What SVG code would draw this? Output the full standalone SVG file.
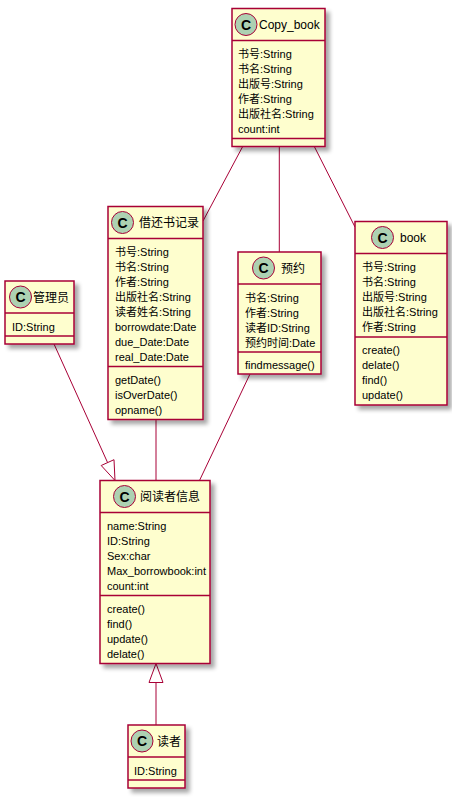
<svg xmlns="http://www.w3.org/2000/svg" width="452" height="797" viewBox="0 0 452 797">
<defs>
<filter id="sh" x="-10%" y="-10%" width="130%" height="130%">
<feGaussianBlur in="SourceAlpha" stdDeviation="2"/>
<feOffset dx="4" dy="4" result="b"/>
<feComponentTransfer><feFuncA type="linear" slope="0.35"/></feComponentTransfer>
<feMerge><feMergeNode/><feMergeNode in="SourceGraphic"/></feMerge>
</filter>
</defs>
<style>
.box{fill:#FEFECE;stroke:#A80036;stroke-width:1.5}
.div{stroke:#A80036;stroke-width:1.5}
.ci{fill:#ADD1B2;stroke:#A80036;stroke-width:1}
.cl{font-family:"Liberation Sans","Noto Sans CJK SC",sans-serif;font-size:14px;font-weight:bold;fill:#000;text-anchor:middle}
.t{font-family:"Liberation Sans","Noto Sans CJK SC",sans-serif;font-size:12px;fill:#000}
.m{font-family:"Liberation Sans","Noto Sans CJK SC",sans-serif;font-size:11px;fill:#000}
.ln{stroke:#A80036;stroke-width:1;fill:none}
.tri{stroke:#A80036;stroke-width:1;fill:#FFFFFF}
</style>
<g id="connectors">
<line class="ln" x1="242.7" y1="146.5" x2="203" y2="221"/>
<line class="ln" x1="279.3" y1="146.5" x2="279.3" y2="252"/>
<line class="ln" x1="314.3" y1="146.5" x2="355" y2="227"/>
<line class="ln" x1="54" y1="344" x2="107.6" y2="462.6"/>
<polygon class="tri" points="115,480.5 101.2,465.5 114,459.7"/>
<line class="ln" x1="156" y1="419.5" x2="156" y2="480.5"/>
<line class="ln" x1="250" y1="374" x2="199.5" y2="480.5"/>
<line class="ln" x1="156" y1="725" x2="156" y2="682.5"/>
<polygon class="tri" points="156,663.5 149,682.5 163,682.5"/>
</g>
<g id="Copy_book">
<rect class="box" x="232" y="8.5" width="93" height="138" filter="url(#sh)"/>
<line class="div" x1="232" y1="40.5" x2="325" y2="40.5"/>
<line class="div" x1="232" y1="138.5" x2="325" y2="138.5"/>
<circle class="ci" cx="246" cy="24.5" r="11"/>
<text class="cl" x="246" y="29.5">C</text>
<text class="t" x="259" y="29">Copy_book</text>
<text class="m" x="238" y="58">书号:String</text>
<text class="m" x="238" y="73">书名:String</text>
<text class="m" x="238" y="88">出版号:String</text>
<text class="m" x="238" y="103">作者:String</text>
<text class="m" x="238" y="118">出版社名:String</text>
<text class="m" x="238" y="133">count:int</text>
</g>
<g id="借还书记录">
<rect class="box" x="108" y="206.5" width="95" height="213" filter="url(#sh)"/>
<line class="div" x1="108" y1="238.5" x2="203" y2="238.5"/>
<line class="div" x1="108" y1="366.5" x2="203" y2="366.5"/>
<circle class="ci" cx="122.5" cy="222.5" r="11"/>
<text class="cl" x="122.5" y="227.5">C</text>
<text class="t" x="139" y="227">借还书记录</text>
<text class="m" x="115" y="256">书号:String</text>
<text class="m" x="115" y="271">书名:String</text>
<text class="m" x="115" y="286">作者:String</text>
<text class="m" x="115" y="301">出版社名:String</text>
<text class="m" x="115" y="316">读者姓名:String</text>
<text class="m" x="115" y="331">borrowdate:Date</text>
<text class="m" x="115" y="346">due_Date:Date</text>
<text class="m" x="115" y="361">real_Date:Date</text>
<text class="m" x="115" y="384">getDate()</text>
<text class="m" x="115" y="399">isOverDate()</text>
<text class="m" x="115" y="414">opname()</text>
</g>
<g id="预约">
<rect class="box" x="238" y="252" width="83" height="122" filter="url(#sh)"/>
<line class="div" x1="238" y1="284" x2="321" y2="284"/>
<line class="div" x1="238" y1="352" x2="321" y2="352"/>
<circle class="ci" cx="263.5" cy="268" r="11"/>
<text class="cl" x="263.5" y="273">C</text>
<text class="t" x="281" y="272.5">预约</text>
<text class="m" x="245" y="301.5">书名:String</text>
<text class="m" x="245" y="316.5">作者:String</text>
<text class="m" x="245" y="331.5">读者ID:String</text>
<text class="m" x="245" y="346.5">预约时间:Date</text>
<text class="m" x="245" y="369">findmessage()</text>
</g>
<g id="book">
<rect class="box" x="355" y="221.5" width="92" height="183.5" filter="url(#sh)"/>
<line class="div" x1="355" y1="253.5" x2="447" y2="253.5"/>
<line class="div" x1="355" y1="337" x2="447" y2="337"/>
<circle class="ci" cx="382.5" cy="237.5" r="11"/>
<text class="cl" x="382.5" y="242.5">C</text>
<text class="t" x="400" y="242">book</text>
<text class="m" x="362" y="271">书号:String</text>
<text class="m" x="362" y="286">书名:String</text>
<text class="m" x="362" y="301">出版号:String</text>
<text class="m" x="362" y="316">出版社名:String</text>
<text class="m" x="362" y="331">作者:String</text>
<text class="m" x="362" y="354">create()</text>
<text class="m" x="362" y="369">delate()</text>
<text class="m" x="362" y="384">find()</text>
<text class="m" x="362" y="399">update()</text>
</g>
<g id="管理员">
<rect class="box" x="5" y="281" width="69" height="63" filter="url(#sh)"/>
<line class="div" x1="5" y1="313" x2="74" y2="313"/>
<line class="div" x1="5" y1="336" x2="74" y2="336"/>
<circle class="ci" cx="20.5" cy="297" r="11"/>
<text class="cl" x="20.5" y="302">C</text>
<text class="t" x="33" y="301.5">管理员</text>
<text class="m" x="12" y="330.5">ID:String</text>
</g>
<g id="阅读者信息">
<rect class="box" x="100" y="480.5" width="110" height="183" filter="url(#sh)"/>
<line class="div" x1="100" y1="512.5" x2="210" y2="512.5"/>
<line class="div" x1="100" y1="595.5" x2="210" y2="595.5"/>
<circle class="ci" cx="124.5" cy="496.5" r="11"/>
<text class="cl" x="124.5" y="501.5">C</text>
<text class="t" x="140" y="501">阅读者信息</text>
<text class="m" x="107" y="530">name:String</text>
<text class="m" x="107" y="545">ID:String</text>
<text class="m" x="107" y="560">Sex:char</text>
<text class="m" x="107" y="575">Max_borrowbook:int</text>
<text class="m" x="107" y="590">count:int</text>
<text class="m" x="107" y="613">create()</text>
<text class="m" x="107" y="628">find()</text>
<text class="m" x="107" y="643">update()</text>
<text class="m" x="107" y="658">delate()</text>
</g>
<g id="读者">
<rect class="box" x="128" y="725" width="57" height="63" filter="url(#sh)"/>
<line class="div" x1="128" y1="757" x2="185" y2="757"/>
<line class="div" x1="128" y1="780" x2="185" y2="780"/>
<circle class="ci" cx="142" cy="741" r="11"/>
<text class="cl" x="142" y="746">C</text>
<text class="t" x="157" y="745.5">读者</text>
<text class="m" x="134" y="774.5">ID:String</text>
</g>
</svg>
